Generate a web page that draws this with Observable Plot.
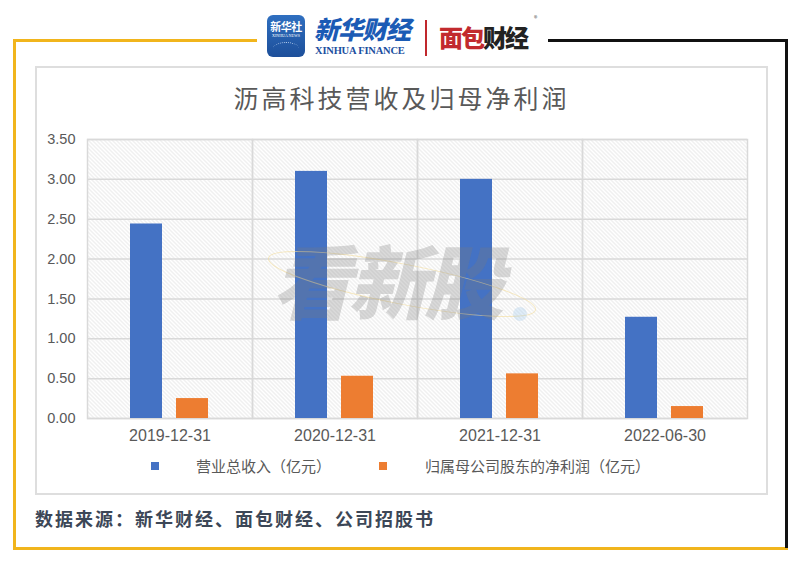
<!DOCTYPE html>
<html>
<head>
<meta charset="utf-8">
<script src="https://cdn.jsdelivr.net/npm/d3@7"></script>
<script src="https://cdn.jsdelivr.net/npm/@observablehq/plot@0.6"></script>
<style>
  html, body { margin: 0; padding: 0; background: #fff; }
  #page { position: relative; width: 801px; height: 563px; overflow: hidden; background: #fff;
          font-family: "Noto Sans CJK SC", "Noto Sans", sans-serif; }
  .abs { position: absolute; }
  #chart svg { position: absolute; left: 0; top: 0; }
  [aria-label^="fx-axis"] text { font-size: 16px; }
  [aria-label^="y-axis"] text { font-size: 14.5px; }
</style>
</head>
<body>
<div id="page">
  <!-- outer frame -->
  <div class="abs" style="left:13px;top:39px;width:244px;height:3px;background:#F1B51C"></div>
  <div class="abs" style="left:13px;top:39px;width:3px;height:511px;background:#F1B51C"></div>
  <div class="abs" style="left:13px;top:547px;width:775px;height:3px;background:#F1B51C"></div>
  <div class="abs" style="left:548px;top:39px;width:240px;height:3px;background:#111"></div>
  <div class="abs" style="left:785px;top:39px;width:3px;height:509px;background:#111"></div>
  <!-- inner chart box -->
  <div class="abs" style="left:35px;top:66px;width:729px;height:425px;border:2px solid #dedede;background:#fff"></div>
  <!-- header logos -->
  <div class="abs" style="left:267px;top:15px;width:38px;height:42px;border-radius:6px;background:linear-gradient(#2f6fc0,#1d4f9a);color:#fff;text-align:center">
    <div style="font-size:11px;font-weight:700;line-height:13px;margin-top:5px;letter-spacing:-0.5px">新华社</div>
    <div style="font-size:4px;line-height:5px;font-family:'Liberation Serif'">XINHUA NEWS</div>
    <div style="margin:4px auto 0;width:26px;height:12px;border-top:1px dotted #bcd3f0;border-radius:50% 50% 0 0"></div>
  </div>
  <div class="abs" style="left:314px;top:13px;width:96px;font-size:25px;line-height:30px;font-weight:900;font-style:italic;color:#1b5bb5;letter-spacing:-1px;font-family:'Noto Sans CJK SC'">新华财经</div>
  <div class="abs" style="left:315px;top:45px;width:96px;font-size:10.5px;line-height:11px;color:#1b4f9f;font-family:'Liberation Serif',serif;font-weight:700;letter-spacing:-0.2px">XINHUA FINANCE</div>
  <div class="abs" style="left:425px;top:20px;width:1.5px;height:36px;background:#c0282d"></div>
  <div class="abs" style="left:439px;top:22px;font-size:24px;line-height:30px;font-weight:900;letter-spacing:-2px;font-family:'Noto Sans CJK SC'"><span style="color:#c22a2e">面包</span><span style="color:#222">财经</span></div>
  <div class="abs" style="left:534px;top:14px;font-size:7px;line-height:8px;color:#555">®</div>
  <!-- title -->
  <div class="abs" style="left:35px;top:80px;width:733px;text-align:center;font-size:25px;line-height:34px;letter-spacing:3px;color:#595959;font-family:'Noto Sans CJK SC'">沥高科技营收及归母净利润</div>
  <div id="chart"></div>
  <!-- watermark -->
  <svg class="abs" style="left:0;top:0;pointer-events:none" width="801" height="563">
    <ellipse cx="402" cy="284" rx="136" ry="20" transform="rotate(11 402 284)" fill="none" stroke="#f3dc9a" stroke-width="1" opacity="0.6"></ellipse>
    <circle cx="520" cy="314" r="7" fill="#9cc6ea" opacity="0.3"></circle>
    <text x="392" y="313" text-anchor="middle" font-size="80" font-weight="900" font-family="Noto Sans CJK SC" fill="#7a7a7a" fill-opacity="0.28" transform="skewX(-14) translate(72 0)" letter-spacing="-4">看新股</text>
  </svg>
  <!-- legend -->
  <div id="legend"></div>
  <!-- source -->
  <div class="abs" style="left:35px;top:506px;font-size:18px;line-height:24px;font-weight:700;letter-spacing:2px;color:#3c4757;font-family:'Noto Sans CJK SC'">数据来源：新华财经、面包财经、公司招股书</div>
</div>
<script>
const dates = ["2019-12-31", "2020-12-31", "2021-12-31", "2022-06-30"];
const seriesNames = ["营业总收入（亿元）", "归属母公司股东的净利润（亿元）"];
const revenue = [2.44, 3.10, 3.00, 1.27];
const netProfit = [0.25, 0.53, 0.56, 0.15];
const yTicks = [0, 0.5, 1, 1.5, 2, 2.5, 3, 3.5];
const colors = ["#4472C4", "#ED7D31"];

const table = dates.flatMap((d, i) => [
  {date: d, series: seriesNames[0], value: revenue[i]},
  {date: d, series: seriesNames[1], value: netProfit[i]}
]);

const chart = Plot.plot({
  width: 801,
  height: 563,
  marginLeft: 87,
  marginRight: 54,
  marginTop: 139,
  marginBottom: 145,
  style: {background: "transparent", color: "#595959", fontFamily: "'Liberation Sans', Arial, sans-serif", fontSize: "15px", overflow: "visible"},
  facet: {data: table, x: "date", label: null},
  fx: {domain: dates, padding: 0, label: null, tickSize: 0, tickPadding: 11, axis: "bottom"},
  x: {domain: seriesNames, paddingInner: 0.3, paddingOuter: 0.925, axis: null, label: null},
  y: {domain: [0, 3.5], ticks: yTicks, tickFormat: d => d.toFixed(2), tickSize: 0, tickPadding: 12, label: null},
  color: {domain: seriesNames, range: colors},
  marks: [
    Plot.frame({fill: "url(#hatch)"}),
    Plot.ruleY(yTicks, {stroke: "#d9d9d9", strokeWidth: 1.5}),
    Plot.frame({stroke: "#d9d9d9", strokeWidth: 1.5}),
    Plot.barY(table, {x: "series", y: "value", fill: "series"})
  ]
});

// remove any stray text (e.g. default scale labels) that is not a tick label
const expected = new Set([...dates, ...yTicks.map(d => d.toFixed(2))]);
chart.querySelectorAll("text").forEach(t => {
  if (!expected.has(t.textContent.trim())) t.remove();
});

// hatch pattern
const ns = "http://www.w3.org/2000/svg";
const defs = document.createElementNS(ns, "defs");
const pat = document.createElementNS(ns, "pattern");
pat.setAttribute("id", "hatch");
pat.setAttribute("width", "4");
pat.setAttribute("height", "4");
pat.setAttribute("patternUnits", "userSpaceOnUse");
const bg = document.createElementNS(ns, "rect");
bg.setAttribute("width", "4"); bg.setAttribute("height", "4"); bg.setAttribute("fill", "#ffffff");
const ln = document.createElementNS(ns, "path");
ln.setAttribute("d", "M-1,-1L5,5M-1,3L1,5M3,-1L5,1");
ln.setAttribute("stroke", "#d8d8d8");
ln.setAttribute("stroke-width", "0.8");
pat.appendChild(bg); pat.appendChild(ln); defs.appendChild(pat);
chart.insertBefore(defs, chart.firstChild);
document.getElementById("chart").appendChild(chart);

// legend
const legend = document.getElementById("legend");
const legendX = [[151, 196], [379, 425]];
seriesNames.forEach((name, i) => {
  const sw = document.createElement("div");
  sw.className = "abs";
  sw.style.cssText = `left:${legendX[i][0]}px;top:462px;width:8px;height:8px;background:${colors[i]}`;
  legend.appendChild(sw);
  const tx = document.createElement("div");
  tx.className = "abs";
  tx.style.cssText = `left:${legendX[i][1]}px;top:455px;font-size:15px;line-height:22px;color:#595959;font-family:'Noto Sans CJK SC'`;
  tx.textContent = name;
  legend.appendChild(tx);
});
</script>
</body>
</html>
